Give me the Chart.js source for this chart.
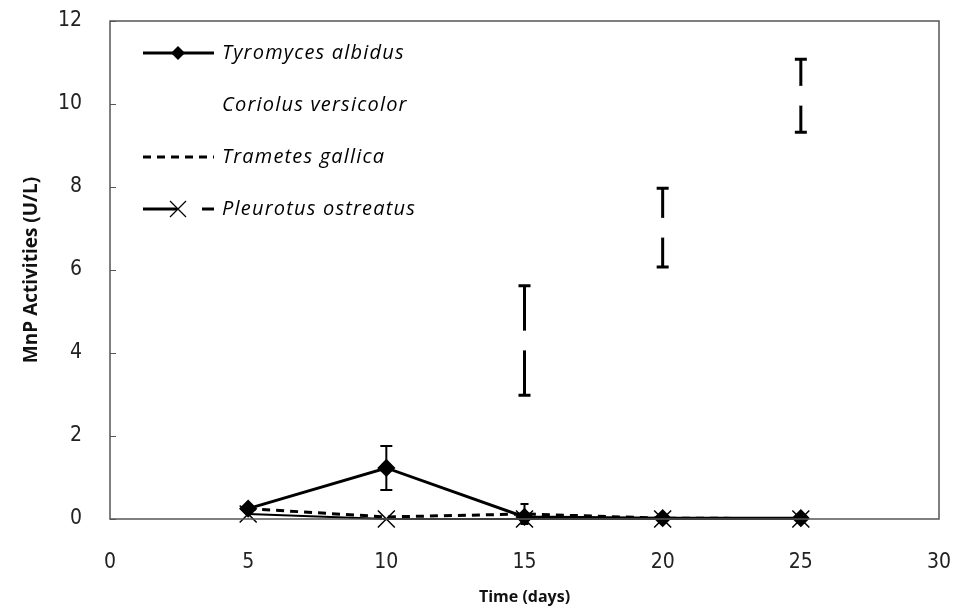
<!DOCTYPE html>
<html>
<head>
<meta charset="utf-8">
<script src="https://cdn.jsdelivr.net/npm/chart.js@4.4.1/dist/chart.umd.min.js"></script>
<style>
  html, body { margin: 0; padding: 0; background: #fff; }
  #wrap { width: 955px; height: 613px; }
</style>
</head>
<body>
<div id="wrap"><canvas id="mnpChart" width="955" height="613"></canvas></div>
<script>
// values
const days = [5, 10, 15, 20, 25];
const tyromyces = [0.25, 1.23, 0.05, 0.02, 0.02];
const tyromycesErr = [0, 0.53, 0, 0, 0];
const coriolus = [0.1, 0.1, 4.3, 7.02, 10.2];
const coriolusErr = [0, 0, 1.32, 0.95, 0.88];
const trametes = [0.25, 0.05, 0.12, 0.02, 0.01];
const trametesErr = [0, 0, 0.24, 0, 0];
const pleurotus = [0.12, 0, 0, 0, 0];
const xTicks = [0, 5, 10, 15, 20, 25, 30];
const yTicks = [0, 2, 4, 6, 8, 10, 12];

const seriesNames = ['Tyromyces albidus', 'Coriolus versicolor', 'Trametes gallica', 'Pleurotus ostreatus'];

function toPoints(vals) {
  return days.map((d, i) => ({ x: d, y: vals[i] }));
}

// error bars go under the lines
const errorBars = {
  id: 'errorBars',
  beforeDatasetsDraw(chart) {
    const { ctx, scales } = chart;
    const bars = [
      { vals: coriolus, err: coriolusErr, cap: 6, w: 3 },
      { vals: tyromyces, err: tyromycesErr, cap: 6, w: 2 },
      { vals: trametes, err: trametesErr, cap: 4, w: 2 }
    ];
    ctx.save();
    ctx.strokeStyle = '#000';
    bars.forEach(b => {
      ctx.lineWidth = b.w;
      days.forEach((d, i) => {
        if (!b.err[i]) return;
        const x = scales.x.getPixelForValue(d);
        const y1 = scales.y.getPixelForValue(b.vals[i] + b.err[i]);
        const y2 = scales.y.getPixelForValue(b.vals[i] - b.err[i]);
        ctx.beginPath();
        ctx.moveTo(x, y1); ctx.lineTo(x, y2);
        ctx.moveTo(x - b.cap, y1); ctx.lineTo(x + b.cap, y1);
        ctx.moveTo(x - b.cap, y2); ctx.lineTo(x + b.cap, y2);
        ctx.stroke();
      });
    });
    ctx.restore();
  }
};

// plot frame and inward y ticks
const frame = {
  id: 'frame',
  afterDatasetsDraw(chart) {
    const { ctx, chartArea: a, scales } = chart;
    ctx.save();
    ctx.strokeStyle = '#555';
    ctx.lineWidth = 1.5;
    ctx.strokeRect(a.left, a.top, a.right - a.left, a.bottom - a.top);
    ctx.lineWidth = 1;
    yTicks.forEach(v => {
      const y = Math.round(scales.y.getPixelForValue(v)) + 0.5;
      ctx.beginPath();
      ctx.moveTo(a.left, y);
      ctx.lineTo(a.left + 6, y);
      ctx.stroke();
    });
    ctx.restore();
  }
};

// legend sitting inside the plot, top left
const insideLegend = {
  id: 'insideLegend',
  afterDraw(chart) {
    const { ctx } = chart;
    const rows = [53, 105, 157, 209];
    const x0 = 143, x1 = 214, xm = 178;
    ctx.save();
    ctx.strokeStyle = '#000';
    ctx.fillStyle = '#000';
    // Tyromyces
    ctx.lineWidth = 3;
    ctx.beginPath(); ctx.moveTo(x0, rows[0]); ctx.lineTo(x1, rows[0]); ctx.stroke();
    ctx.beginPath();
    ctx.moveTo(xm, rows[0] - 7); ctx.lineTo(xm + 7, rows[0]);
    ctx.lineTo(xm, rows[0] + 7); ctx.lineTo(xm - 7, rows[0]);
    ctx.closePath(); ctx.fill();
    // Trametes
    ctx.setLineDash([8, 6]);
    ctx.beginPath(); ctx.moveTo(x0, rows[2]); ctx.lineTo(x1, rows[2]); ctx.stroke();
    // Pleurotus
    ctx.setLineDash([34, 25]);
    ctx.beginPath(); ctx.moveTo(x0, rows[3]); ctx.lineTo(x1, rows[3]); ctx.stroke();
    ctx.setLineDash([]);
    ctx.lineWidth = 1.2;
    ctx.beginPath();
    ctx.moveTo(xm - 8, rows[3] - 8); ctx.lineTo(xm + 8, rows[3] + 8);
    ctx.moveTo(xm + 8, rows[3] - 8); ctx.lineTo(xm - 8, rows[3] + 8);
    ctx.stroke();

    ctx.font = 'italic 20px "Open Sans"';
    ctx.letterSpacing = '1.2px';
    ctx.textBaseline = 'middle';
    ctx.textAlign = 'left';
    seriesNames.forEach((n, i) => ctx.fillText(n, 222, rows[i]));
    ctx.restore();
  }
};

window.onload = function () {
  const ctx = document.getElementById('mnpChart').getContext('2d');
  new Chart(ctx, {
    type: 'line',
    data: {
      datasets: [
        {
          label: seriesNames[0],
          data: toPoints(tyromyces),
          borderColor: '#000', backgroundColor: '#000',
          borderWidth: 3, pointStyle: 'rectRot', pointRadius: 7,
          clip: false, order: 0
        },
        {
          label: seriesNames[1],
          data: toPoints(coriolus),
          borderColor: '#fff', backgroundColor: '#fff',
          borderWidth: 3, pointStyle: 'circle', pointRadius: 10, pointBorderWidth: 0,
          order: 10
        },
        {
          label: seriesNames[2],
          data: toPoints(trametes),
          borderColor: '#000', backgroundColor: '#000',
          borderWidth: 3, borderDash: [8, 6], pointRadius: 0,
          order: 2
        },
        {
          label: seriesNames[3],
          data: toPoints(pleurotus),
          borderColor: '#000', backgroundColor: '#000',
          borderWidth: 2,
          pointStyle: 'crossRot', pointRadius: 12, pointBorderWidth: 1.5,
          clip: false, order: 1
        }
      ]
    },
    options: {
      responsive: false,
      animation: false,
      layout: { padding: { top: 21, right: 16, left: 0, bottom: 0 } },
      plugins: { legend: { display: false }, tooltip: { enabled: false } },
      elements: { line: { tension: 0 } },
      scales: {
        x: {
          type: 'linear', min: 0, max: 30,
          afterFit: s => { s.height = 94; s.paddingLeft = 0; s.paddingRight = 0; },
          afterBuildTicks: s => { s.ticks = xTicks.map(v => ({ value: v })); },
          grid: { display: false, drawTicks: false },
          border: { display: false },
          ticks: { padding: 31, color: '#222', font: { family: '"DejaVu Sans Condensed"', size: 21 } },
          title: {
            display: true, text: 'Time (days)', color: '#111',
            font: { family: '"Open Sans"', size: 16, weight: 'bold' },
            padding: { top: 0, bottom: 6 }
          }
        },
        y: {
          min: 0, max: 12,
          afterFit: s => { s.width = 110; s.paddingTop = 0; s.paddingBottom = 0; },
          afterBuildTicks: s => { s.ticks = yTicks.map(v => ({ value: v })); },
          grid: { display: false, drawTicks: false },
          border: { display: false },
          ticks: { padding: 28, color: '#222', font: { family: '"DejaVu Sans Condensed"', size: 21 } },
          title: {
            display: true, text: 'MnP Activities (U/L)', color: '#111',
            font: { family: '"Open Sans"', size: 19, weight: 'bold' },
            padding: { top: 20, bottom: 0 }
          }
        }
      }
    },
    plugins: [errorBars, frame, insideLegend]
  });
};
</script>
</body>
</html>
